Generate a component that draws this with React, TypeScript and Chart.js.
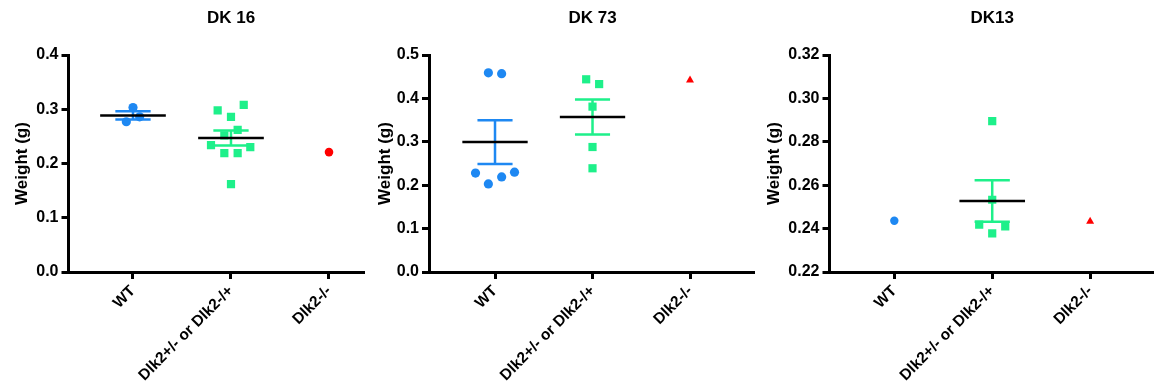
import React, { useEffect, useRef } from 'react';
import { Chart, registerables } from 'chart.js';

Chart.register(...registerables);

const FONT = '"Liberation Sans", Arial, Helvetica, sans-serif';

// ---- data ----
const CATEGORIES = ['WT', 'Dlk2+/- or Dlk2-/+', 'Dlk2-/-'];
const TITLES = ['DK 16', 'DK 73', 'DK13'];
const Y_LABEL = 'Weight (g)';

// DK 16
const DK16_WT = [0.303, 0.277, 0.286];
const DK16_WT_JITTER = [0, -0.068, 0.068];
const DK16_HET = [0.298, 0.308, 0.286, 0.262, 0.252, 0.234, 0.23, 0.219, 0.219, 0.162];
const DK16_HET_JITTER = [-0.136, 0.13, 0, 0.068, -0.068, -0.204, 0.197, -0.068, 0.068, 0];
const DK16_KO = [0.221];
const DK16_KO_JITTER = [0];

// DK 73
const DK73_WT = [0.459, 0.457, 0.228, 0.23, 0.219, 0.203];
const DK73_WT_JITTER = [-0.068, 0.068, -0.2, 0.2, 0.068, -0.068];
const DK73_HET = [0.444, 0.433, 0.381, 0.288, 0.239];
const DK73_HET_JITTER = [-0.065, 0.068, 0, 0, 0];
const DK73_KO = [0.442];
const DK73_KO_JITTER = [0];

// DK13
const DK13_WT = [0.2436];
const DK13_WT_JITTER = [0];
const DK13_HET = [0.2895, 0.2533, 0.2418, 0.241, 0.2378];
const DK13_HET_JITTER = [0, 0, -0.133, 0.133, 0];
const DK13_KO = [0.2433];
const DK13_KO_JITTER = [0];

// y axis ranges / ticks
const Y_MIN = [0, 0, 0.22];
const Y_MAX = [0.4, 0.5, 0.32];
const Y_STEP = [0.1, 0.1, 0.02];
const Y_DECIMALS = [1, 1, 2];

// ---- styles ----
const BLUE = '#1E88F2';
const GREEN = '#1EF08A';
const RED = '#FF0000';
const MEAN_HALF = 0.335;
const CAP_HALF = 0.18;

type Group = { values: number[]; jitter: number[]; color: string; style: string; radius: number };

const GROUPS: Group[][] = [
  [
    { values: DK16_WT, jitter: DK16_WT_JITTER, color: BLUE, style: 'circle', radius: 4.6 },
    { values: DK16_HET, jitter: DK16_HET_JITTER, color: GREEN, style: 'rect', radius: 5.8 },
    { values: DK16_KO, jitter: DK16_KO_JITTER, color: RED, style: 'circle', radius: 4.3 },
  ],
  [
    { values: DK73_WT, jitter: DK73_WT_JITTER, color: BLUE, style: 'circle', radius: 4.6 },
    { values: DK73_HET, jitter: DK73_HET_JITTER, color: GREEN, style: 'rect', radius: 5.8 },
    { values: DK73_KO, jitter: DK73_KO_JITTER, color: RED, style: 'triangle', radius: 4.6 },
  ],
  [
    { values: DK13_WT, jitter: DK13_WT_JITTER, color: BLUE, style: 'circle', radius: 4.2 },
    { values: DK13_HET, jitter: DK13_HET_JITTER, color: GREEN, style: 'rect', radius: 5.8 },
    { values: DK13_KO, jitter: DK13_KO_JITTER, color: RED, style: 'triangle', radius: 4.6 },
  ],
];

// layout per panel
const LAYOUT = [
  { left: 0, width: 370, padLeft: 8, yWidth: 60.5, padRight: 7, xMin: 0.342, xMax: 3.347 },
  { left: 370, width: 390, padLeft: 1, yWidth: 58, padRight: 7, xMin: 0.323, xMax: 3.646 },
  { left: 760, width: 399, padLeft: 0, yWidth: 69.5, padRight: 7, xMin: 0.338, xMax: 3.632 },
];
const HEIGHT = 390;
const PAD_TOP = 55;
const X_AXIS_H = 118;

function mean(a: number[]) {
  return a.reduce((s, v) => s + v, 0) / a.length;
}
function sem(a: number[]) {
  const m = mean(a);
  const v = a.reduce((s, x) => s + (x - m) * (x - m), 0) / (a.length - 1);
  return Math.sqrt(v) / Math.sqrt(a.length);
}

function PanelChart({ index }: { index: number }) {
  const ref = useRef<HTMLCanvasElement>(null);
  const lay = LAYOUT[index];

  useEffect(() => {
    if (!ref.current) return;
    const groups = GROUPS[index];
    const datasets: any[] = [];
    groups.forEach((g, gi) => {
      if (g.values.length < 2) return;
      const c = gi + 1;
      const m = mean(g.values);
      datasets.push({
        data: [
          { x: c - MEAN_HALF, y: m },
          { x: c + MEAN_HALF, y: m },
        ],
        showLine: true,
        borderColor: '#000000',
        borderWidth: 2.5,
        pointRadius: 0,
        spanGaps: false,
      });
    });
    groups.forEach((g, gi) => {
      if (g.values.length < 2) return;
      const c = gi + 1;
      const m = mean(g.values);
      const s = sem(g.values);
      datasets.push({
        data: [
          { x: c, y: m - s },
          { x: c, y: m + s },
          { x: c, y: null },
          { x: c - CAP_HALF, y: m + s },
          { x: c + CAP_HALF, y: m + s },
          { x: c, y: null },
          { x: c - CAP_HALF, y: m - s },
          { x: c + CAP_HALF, y: m - s },
        ],
        showLine: true,
        borderColor: g.color,
        borderWidth: 2.5,
        pointRadius: 0,
        spanGaps: false,
      });
    });
    groups.forEach((g, gi) => {
      datasets.push({
        data: g.values.map((v, i) => ({ x: gi + 1 + g.jitter[i], y: v })),
        showLine: false,
        pointStyle: g.style,
        pointRadius: g.radius,
        pointBackgroundColor: g.color,
        pointBorderWidth: 0,
        pointBorderColor: g.color,
        backgroundColor: g.color,
      });
    });

    const title = TITLES[index];
    const titlePlugin = {
      id: 'panelTitle',
      afterDraw(chart: any) {
        const ctx = chart.ctx;
        const xs = chart.scales.x;
        ctx.save();
        ctx.font = `bold 17px ${FONT}`;
        ctx.fillStyle = '#000000';
        ctx.textAlign = 'center';
        ctx.textBaseline = 'middle';
        ctx.fillText(title, xs.getPixelForValue(2), 18);
        ctx.restore();
      },
    };

    const dec = Y_DECIMALS[index];
    const chart = new Chart(ref.current, {
      type: 'scatter',
      data: { datasets },
      options: {
        animation: false,
        responsive: false,
        maintainAspectRatio: false,
        layout: { padding: { left: lay.padLeft, right: lay.padRight, top: PAD_TOP, bottom: 0 } },
        plugins: { legend: { display: false }, tooltip: { enabled: false }, title: { display: false } },
        scales: {
          x: {
            type: 'linear',
            min: lay.xMin,
            max: lay.xMax,
            afterBuildTicks: (scale: any) => {
              scale.ticks = CATEGORIES.map((_, i) => ({ value: i + 1 }));
            },
            afterFit: (scale: any) => {
              scale.height = X_AXIS_H;
            },
            ticks: {
              autoSkip: false,
              minRotation: 45,
              maxRotation: 45,
              padding: 3,
              color: '#000000',
              font: { family: FONT, size: 15.5, weight: 'bold' },
              callback: (_v: any, i: number) => CATEGORIES[i],
            },
            grid: {
              display: true,
              drawOnChartArea: false,
              drawTicks: true,
              tickLength: 7,
              tickWidth: 3,
              color: '#000000',
              lineWidth: 3,
            },
            border: { display: true, color: '#000000', width: 3 },
          },
          y: {
            type: 'linear',
            min: Y_MIN[index],
            max: Y_MAX[index],
            afterFit: (scale: any) => {
              scale.width = lay.yWidth;
            },
            ticks: {
              stepSize: Y_STEP[index],
              padding: 3,
              color: '#000000',
              font: { family: FONT, size: 16, weight: 'bold' },
              callback: (v: any) => Number(v).toFixed(dec),
            },
            title: {
              display: true,
              text: Y_LABEL,
              color: '#000000',
              font: { family: FONT, size: 17, weight: 'bold' },
              padding: { top: 4, bottom: 0 },
            },
            grid: {
              display: true,
              drawOnChartArea: false,
              drawTicks: true,
              tickLength: 7,
              tickWidth: 3,
              color: '#000000',
              lineWidth: 3,
            },
            border: { display: true, color: '#000000', width: 3 },
          },
        },
      } as any,
      plugins: [titlePlugin],
    });
    return () => chart.destroy();
  }, [index]);

  return (
    <canvas
      ref={ref}
      width={lay.width}
      height={HEIGHT}
      style={{ position: 'absolute', left: lay.left, top: 0, width: lay.width, height: HEIGHT, display: 'block' }}
    />
  );
}

export default function App() {
  return (
    <div style={{ position: 'absolute', left: 0, top: 0, width: 1159, height: HEIGHT, background: '#ffffff', overflow: 'hidden' }}>
      <PanelChart index={0} />
      <PanelChart index={1} />
      <PanelChart index={2} />
    </div>
  );
}
